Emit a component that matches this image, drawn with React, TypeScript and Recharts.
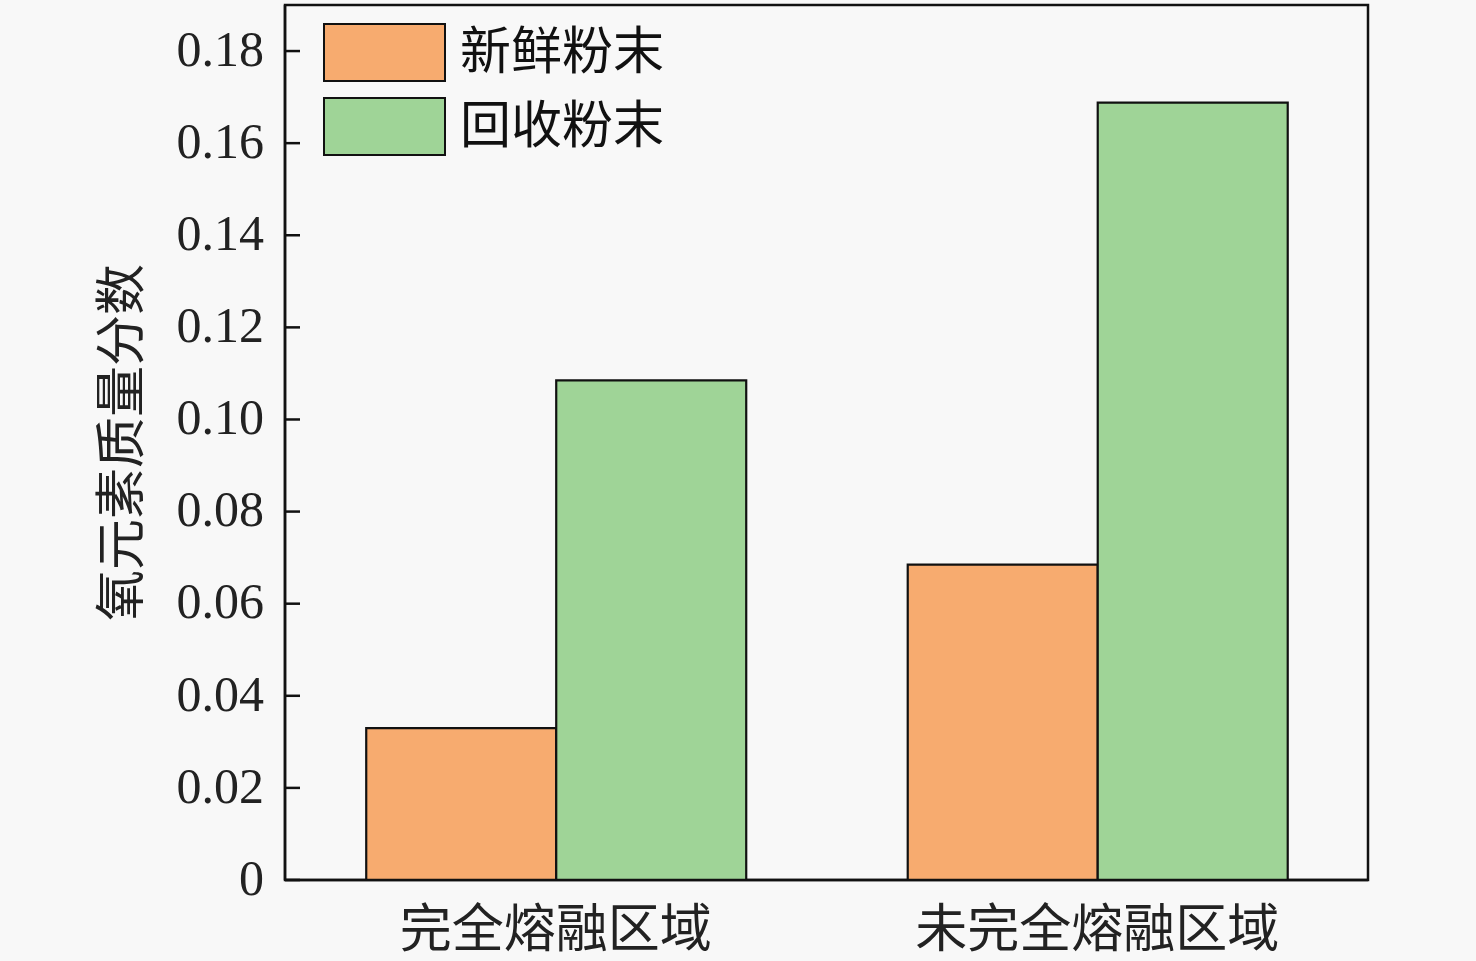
import React from 'react';
import { BarChart, Bar, XAxis, YAxis, Legend, ReferenceArea } from 'recharts';

const categories = ['完全熔融区域', '未完全熔融区域'];
const freshPowder = [0.033, 0.0685];
const recycledPowder = [0.1085, 0.1688];
const yTicks = [0, 0.02, 0.04, 0.06, 0.08, 0.1, 0.12, 0.14, 0.16, 0.18];
const seriesNames = ['新鲜粉末', '回收粉末'];
const colors = ['#F7AB6F', '#9FD497'];

const data = categories.map((c, i) => ({ name: c, fresh: freshPowder[i], recycled: recycledPowder[i] }));

const FONT = '"Liberation Serif", "Noto Sans CJK SC", serif';

const fmt = (v: number) => (v === 0 ? '0' : v.toFixed(2));

const LegendBox = () => (
  <div style={{ fontFamily: FONT }}>
    {seriesNames.map((n, i) => (
      <div key={n} style={{ display: 'flex', alignItems: 'center', height: 74 }}>
        <div style={{ width: 119, height: 55, background: colors[i], border: '2px solid #111' }} />
        <span style={{ fontSize: 51, marginLeft: 14, color: '#111', lineHeight: '74px', whiteSpace: 'nowrap' }}>{n}</span>
      </div>
    ))}
  </div>
);

const YLabel = (props: any) => {
  const vb = props.viewBox || {};
  const cx = 122;
  const cy = (vb.y ?? 5) + (vb.height ?? 875) / 2;
  return (
    <text x={cx} y={cy} transform={`rotate(-90 ${cx} ${cy})`} textAnchor="middle" dominantBaseline="central"
      style={{ fontFamily: FONT, fontSize: 51, fill: '#222' }}>
      氧元素质量分数
    </text>
  );
};

export default function App() {
  return (
    <div style={{ position: 'absolute', left: 0, top: 0, width: 1476, height: 961, background: '#f8f8f8' }}>
      <BarChart width={1476} height={961} data={data} margin={{ top: 5, right: 108, bottom: 0, left: 0 }}
        barCategoryGap="15%" barGap={0}>
        <XAxis dataKey="name" height={81} tickLine={false} tickSize={0} tickMargin={30}
          axisLine={{ stroke: '#111', strokeWidth: 2.5 }}
          tick={{ fontFamily: FONT, fontSize: 52, fill: '#222' }} />
        <YAxis width={285} domain={[0, 0.19]} ticks={yTicks} tickFormatter={fmt}
          tickSize={-15} tickMargin={36} allowDataOverflow
          axisLine={{ stroke: '#111', strokeWidth: 2.5 }} tickLine={{ stroke: '#111', strokeWidth: 2.5 }}
          tick={{ fontFamily: FONT, fontSize: 50, fill: '#222', dy: -3 }} label={<YLabel />} />
        <ReferenceArea y1={0} y2={0.19} fill="none" stroke="#111" strokeWidth={2.5} ifOverflow="visible" />
        <Legend layout="vertical" align="center" verticalAlign="middle" content={<LegendBox />}
          wrapperStyle={{ left: 323, top: 15, width: 400 }} />
        <Bar dataKey="fresh" name={seriesNames[0]} fill={colors[0]} stroke="#111" strokeWidth={2.2} isAnimationActive={false} />
        <Bar dataKey="recycled" name={seriesNames[1]} fill={colors[1]} stroke="#111" strokeWidth={2.2} isAnimationActive={false} />
      </BarChart>
    </div>
  );
}
